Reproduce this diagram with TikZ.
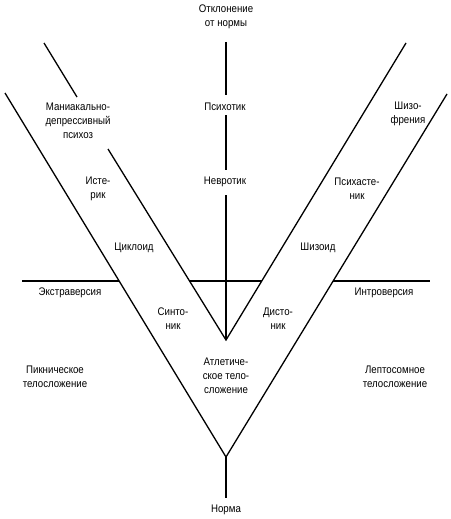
\documentclass[tikz,border=0pt]{standalone}
\usepackage{fontspec}
\setmainfont{Liberation Sans}[FakeStretch=0.88]
\begin{document}
\begin{tikzpicture}[x=1pt,y=-1pt,
  ln/.style={line width=1.3pt,black},
  lbl/.style={align=center,inner sep=0pt,font=\fontsize{11}{14}\selectfont}]
\useasboundingbox (0,0) rectangle (450,519);
% coordinates
\coordinate (OL) at (5,93);
\coordinate (OR) at (447,94);
\coordinate (A) at (226,457);
\coordinate (S) at (226,498);
\coordinate (IL1) at (44,43);
\coordinate (IL2) at (77,97);
\coordinate (IL3) at (108,149);
\coordinate (IR) at (406,43);
\coordinate (IA) at (226,340);
\coordinate (C1) at (226,42);
\coordinate (C2) at (226,95);
\coordinate (C3) at (226,115);
\coordinate (C4) at (226,170);
\coordinate (C5) at (226,195);
\coordinate (HL1) at (22,281);
\coordinate (HL2) at (119.1,281);
\coordinate (HM1) at (189.8,281);
\coordinate (HM2) at (261.8,281);
\coordinate (HR1) at (333.2,281);
\coordinate (HR2) at (430,281);
% lines
\draw[ln] (OL) -- (A) -- (OR);
\draw[ln] (A) -- (S);
\draw[ln] (IL1) -- (IL2);
\draw[ln] (IL3) -- (IA) -- (IR);
\draw[ln] (C1) -- (C2);
\draw[ln] (C3) -- (C4);
\draw[ln] (C5) -- (IA);
\draw[ln] (HL1) -- (HL2);
\draw[ln] (HM1) -- (HM2);
\draw[ln] (HR1) -- (HR2);
% labels
\node[lbl] (dev) at (226,17) {Отклонение\\от нормы};
\node[lbl] (psyt) at (225,107) {Психотик};
\node[lbl] (nevr) at (225,182) {Невротик};
\node[lbl] (mdp) at (78,121) {Маниакально-\\депрессивный\\психоз};
\node[lbl] (ister) at (98,189) {Исте-\\рик};
\node[lbl] (cikl) at (134,248) {Циклоид};
\node[lbl] (shizd) at (318,248) {Шизоид};
\node[lbl] (psyh) at (357,189) {Психасте-\\ник};
\node[lbl] (shizf) at (408,114) {Шизо-\\френия};
\node[lbl] (extr) at (70,293) {Экстраверсия};
\node[lbl] (intr) at (384,293) {Интроверсия};
\node[lbl] (sint) at (173,318.5) {Синто-\\ник};
\node[lbl] (dist) at (278,318.5) {Дисто-\\ник};
\node[lbl] (pikn) at (55,376.5) {Пикническое\\телосложение};
\node[lbl] (lept) at (395,376.5) {Лептосомное\\телосложение};
\node[lbl] (atl) at (226,376) {Атлетиче-\\ское тело-\\сложение};
\node[lbl] (norm) at (226,510) {Норма};
\end{tikzpicture}
\end{document}
